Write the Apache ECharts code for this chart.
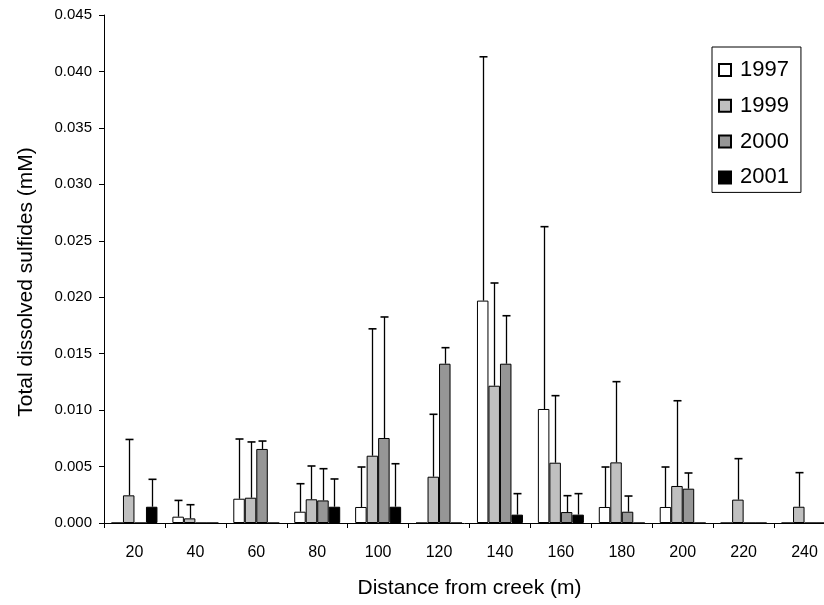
<!DOCTYPE html>
<html>
<head>
<meta charset="utf-8">
<script src="https://cdn.jsdelivr.net/npm/echarts@6/dist/echarts.min.js"></script>
<style>html,body{margin:0;padding:0;background:#fff}#c{width:824px;height:605px}</style>
</head>
<body>
<div id="c"></div>
<script>
// Categories: distance from creek (m)
var categories = ['20','40','60','80','100','120','140','160','180','200','220','240'];
var years = ['1997','1999','2000','2001'];
// Mean total dissolved sulfides (mM)
var v1997 = [0, 0.00056, 0.00215, 0.0010, 0.00142, 0, 0.0197, 0.0101, 0.00142, 0.00142, 0, 0];
var v1999 = [0.00245, 0.00041, 0.00224, 0.0021, 0.00596, 0.0041, 0.01216, 0.00534, 0.00537, 0.00328, 0.00207, 0.00144];
var v2000 = [0, 0, 0.00656, 0.0020, 0.00753, 0.01411, 0.01411, 0.00097, 0.0010, 0.00304, 0, 0];
var v2001 = [0.00144, 0, 0, 0.00144, 0.00144, 0, 0.00074, 0.00074, 0, 0, 0, 0];
// Upper error amounts (mM)
var e1997 = [0, 0.00144, 0.00529, 0.00248, 0.00354, 0, 0.0216, 0.01615, 0.00354, 0.00354, 0, 0];
var e1999 = [0.00495, 0.00121, 0.00494, 0.00295, 0.01124, 0.00553, 0.0091, 0.00594, 0.00715, 0.00755, 0.00363, 0.00302];
var e2000 = [0, 0, 0.0007, 0.00281, 0.01072, 0.00142, 0.00425, 0.00145, 0.00139, 0.00139, 0, 0];
var e2001 = [0.00243, 0, 0, 0.00246, 0.00381, 0, 0.00186, 0.00186, 0, 0, 0, 0];
// Y tick range
var yMin = 0, yMax = 0.045, yStep = 0.005;
var yTitle = 'Total dissolved sulfides (mM)';
var xTitle = 'Distance from creek (m)';

var values = [v1997, v1999, v2000, v2001];
var errors = [e1997, e1999, e2000, e2001];
var colors = ['#ffffff', '#c0c0c0', '#969696', '#000000'];
var BW = 11.5;
var FONT = '"Liberation Sans", Arial, Helvetica, sans-serif';

var series = [];
years.forEach(function (y, k) {
  series.push({
    name: y, type: 'bar', barWidth: BW, barGap: '0%',
    data: values[k],
    itemStyle: { color: colors[k], borderColor: '#000', borderWidth: 1 },
    z: 2
  });
});
years.forEach(function (y, k) {
  var d = values[k].map(function (v, i) { return [i, v, errors[k][i]]; });
  series.push({
    name: y + ' err', type: 'custom', z: 5, silent: true,
    data: d,
    encode: { x: 0, y: 1 },
    renderItem: function (params, api) {
      var idx = api.value(0), v = api.value(1), e = api.value(2);
      if (!(e > 0)) return null;
      var p0 = api.coord([idx, v]);
      var p1 = api.coord([idx, v + e]);
      var x = Math.round(p0[0] + (k - 1.5) * BW) + 0.5;
      var style = { stroke: '#000', lineWidth: 1.3 };
      return {
        type: 'group',
        children: [
          { type: 'line', shape: { x1: x, y1: p0[1], x2: x, y2: p1[1] }, style: style },
          { type: 'line', shape: { x1: x - 4, y1: p1[1], x2: x + 4, y2: p1[1] }, style: { stroke: '#000', lineWidth: 1.6 } }
        ]
      };
    }
  });
});

var chart = echarts.init(document.getElementById('c'), null, { renderer: 'canvas' });
chart.setOption({
  animation: false,
  backgroundColor: '#fff',
  textStyle: { fontFamily: FONT },
  grid: { left: 104, right: -11, top: 15, bottom: 82, containLabel: false, outerBoundsMode: 'none' },
  graphic: [{
    type: 'text', x: 26, y: 282, rotation: Math.PI / 2,
    style: { text: yTitle, fontSize: 21, fontFamily: FONT, fill: '#000', align: 'center', verticalAlign: 'middle' }
  }],
  legend: {
    data: years,
    orient: 'vertical',
    left: 712, top: 47,
    padding: [12, 12, 4, 6],
    itemGap: 13.8,
    itemWidth: 12, itemHeight: 12,
    borderColor: '#000', borderWidth: 1,
    backgroundColor: '#fff',
    icon: 'rect',
    textStyle: { fontSize: 22, color: '#000', fontFamily: FONT, padding: [0, 0, 0, 4] }
  },
  xAxis: {
    type: 'category', data: categories,
    name: xTitle, nameLocation: 'middle', nameGap: 55,
    nameTextStyle: { fontSize: 21, color: '#000', fontFamily: FONT },
    axisLine: { lineStyle: { color: '#000', width: 1 } },
    axisTick: { show: true, length: 5, lineStyle: { color: '#000' } },
    axisLabel: { fontSize: 16, color: '#000', margin: 22, fontFamily: FONT },
    splitLine: { show: false }
  },
  yAxis: {
    type: 'value', min: yMin, max: yMax, interval: yStep,
    axisLine: { show: true, lineStyle: { color: '#000', width: 1 } },
    axisTick: { show: true, length: 5, lineStyle: { color: '#000' } },
    axisLabel: { fontSize: 15, color: '#000', margin: 12, fontFamily: FONT,
      formatter: function (v) { return v.toFixed(3); } },
    splitLine: { show: false }
  },
  series: series
});
</script>
</body>
</html>
